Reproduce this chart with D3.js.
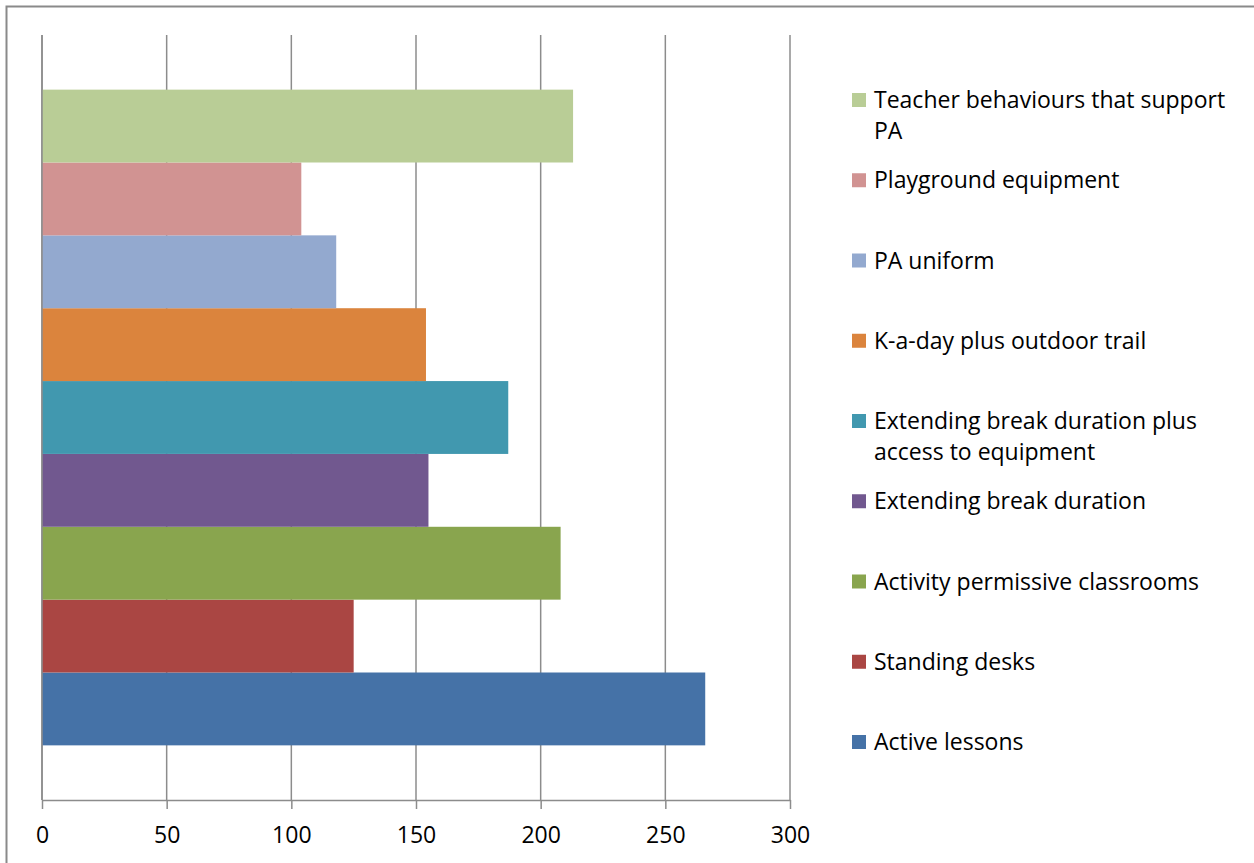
<!DOCTYPE html>
<html>
<head>
<meta charset="utf-8">
<script src="https://cdn.jsdelivr.net/npm/d3@7"></script>
<style>
  html, body { margin: 0; padding: 0; background: #fff; }
  svg { display: block; }
  text { font-family: "Open Sans", Lato, sans-serif; fill: #000; }
</style>
</head>
<body>
<svg id="chart" width="1254" height="863"></svg>
<script>
// Interventions, listed bottom to top as drawn
const series = [
  "Active lessons",
  "Standing desks",
  "Activity permissive classrooms",
  "Extending break duration",
  "Extending break duration plus access to equipment",
  "K-a-day plus outdoor trail",
  "PA uniform",
  "Playground equipment",
  "Teacher behaviours that support PA"
];
const values = [266, 125, 208, 155, 187, 154, 118, 104, 213];
const colors = ["#4572A7", "#AA4643", "#89A54E", "#71588F", "#4198AF", "#DB843D", "#93A9CF", "#D19392", "#B9CD96"];
const xTicks = [0, 50, 100, 150, 200, 250, 300];

const svg = d3.select("#chart");
const W = 1254, H = 863;
const fontSize = 23;

// chart frame
svg.append("rect")
  .attr("x", 6.5).attr("y", 6.5)
  .attr("width", W + 10).attr("height", H + 10)
  .attr("fill", "#fff").attr("stroke", "#8a8a8a").attr("stroke-width", 2);

const plot = { left: 42, right: 790, top: 35, bottom: 800 };

const x = d3.scaleLinear().domain([0, 300]).range([plot.left, plot.right]);

// one category; series stacked as adjacent bars with 150% gap width
const y = d3.scaleBand()
  .domain(series.slice().reverse())
  .range([plot.top, plot.bottom])
  .paddingInner(0)
  .paddingOuter(0.75);

const gridColor = "#8c8c8c";

// vertical gridlines
svg.append("g")
  .selectAll("line")
  .data(xTicks)
  .join("line")
  .attr("x1", d => x(d)).attr("x2", d => x(d))
  .attr("y1", plot.top).attr("y2", plot.bottom)
  .attr("stroke", gridColor).attr("stroke-width", 1.5);

// bars
svg.append("g")
  .selectAll("rect")
  .data(series.map((s, i) => ({ s, v: values[i], c: colors[i] })))
  .join("rect")
  .attr("x", x(0))
  .attr("y", d => y(d.s))
  .attr("width", d => x(d.v) - x(0))
  .attr("height", y.bandwidth())
  .attr("fill", d => d.c);

// value axis
const xAxis = d3.axisBottom(x)
  .tickValues(xTicks)
  .tickSize(9)
  .tickSizeOuter(0)
  .tickPadding(18);

const ax = svg.append("g")
  .attr("transform", `translate(0,${plot.bottom})`)
  .call(xAxis);
ax.select(".domain").attr("stroke", gridColor).attr("stroke-width", 1.5);
ax.selectAll(".tick line").attr("stroke", gridColor).attr("stroke-width", 1.5);
ax.selectAll(".tick text")
  .style("font-family", "'Open Sans', Lato, sans-serif")
  .style("font-size", fontSize + "px")
  .attr("fill", "#000");

// category axis line at zero
svg.append("line")
  .attr("x1", x(0)).attr("x2", x(0))
  .attr("y1", plot.top).attr("y2", plot.bottom)
  .attr("stroke", gridColor).attr("stroke-width", 1.5);

// legend, top entry first
const legendOrder = series.slice().reverse();
const legendColors = colors.slice().reverse();
const legY = d3.scalePoint().domain(legendOrder).range([100, 742]);
const legX = 852, textX = 874, maxW = 362, lineH = 31;

const leg = svg.append("g");
legendOrder.forEach((name, i) => {
  const cy = legY(name);
  leg.append("rect")
    .attr("x", legX).attr("y", cy - 7)
    .attr("width", 14).attr("height", 14)
    .attr("fill", legendColors[i]);
  const t = leg.append("text")
    .attr("x", textX).attr("y", cy)
    .attr("dy", "0.35em")
    .style("font-size", fontSize + "px");
  // wrap long names across lines
  const words = name.split(" ");
  let line = [];
  let tspan = t.append("tspan").attr("x", textX);
  words.forEach(w => {
    line.push(w);
    tspan.text(line.join(" "));
    if (tspan.node().getComputedTextLength() > maxW && line.length > 1) {
      line.pop();
      tspan.text(line.join(" "));
      line = [w];
      tspan = t.append("tspan").attr("x", textX).attr("dy", lineH).text(w);
    }
  });
});
</script>
</body>
</html>
